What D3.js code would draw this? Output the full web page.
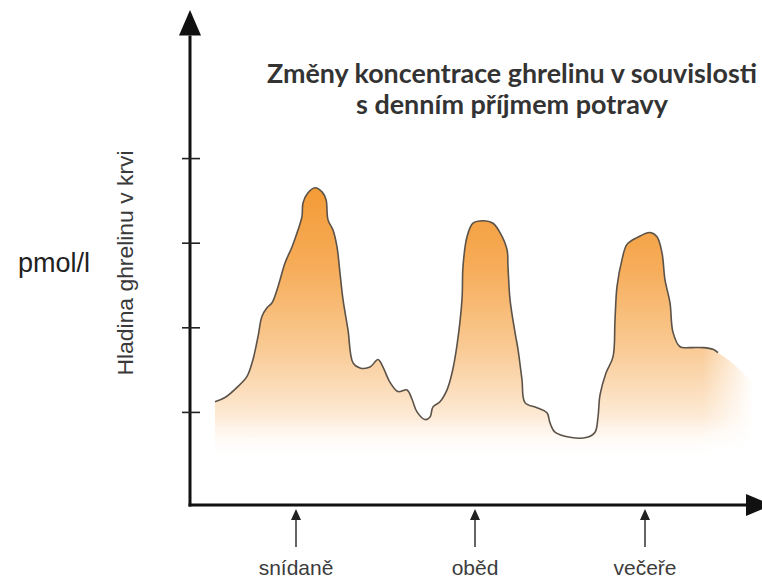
<!DOCTYPE html>
<html>
<head>
<meta charset="utf-8">
<script src="https://cdn.jsdelivr.net/npm/d3@7"></script>
<style>
  body { margin: 0; background: #fff; }
  svg { display: block; }
</style>
</head>
<body>
<div id="chart"></div>
<script>
// casova osa (libovolne jednotky) a hladina ghrelinu
const time = [6.25, 8.75, 11.75, 14.25, 15.75, 17, 18, 19.25, 20.5, 22, 23.75, 25.5, 27, 28, 28.25, 29.5, 31.25, 33, 34, 34.5,
  35.75, 36.75, 37.5, 38.25, 39.5, 40.75, 42.5, 45, 47, 48.25, 50, 52, 54.25, 55.5, 56.75, 58.75, 60, 60.75, 62.5, 64.25,
  65.5, 66.75, 68, 68.25, 69.25, 70.75, 73.25, 75.75, 77.5, 79.25, 79.5, 80, 81.25, 82, 83, 83.75, 86.75, 89.25, 90, 91.25,
  95, 99.25, 101.25, 102, 102.5, 104, 105.75, 106.25, 106.75, 108, 109.25, 111.75, 115, 116.75, 118, 118.75, 120, 120.75,
  122.5, 125, 128.25, 130.75, 132];
const level = [112, 117, 129, 142, 162, 189, 213, 223, 229, 248, 276, 295, 315, 331, 347, 359, 365, 360, 351, 327,
  315, 295, 264, 233, 197, 158, 152, 153, 162, 153, 135, 124, 126, 115, 100, 91, 94, 106, 112, 126,
  146, 179, 233, 272, 307, 323, 326, 323, 312, 292, 272, 233, 194, 174, 138, 111, 105, 99, 87, 76,
  70, 70, 76, 94, 120, 146, 165, 209, 248, 280, 298, 306, 312, 307, 288, 256, 229, 194,
  177, 176, 176, 174, 170];
// vybarveni pokracuje kousek za konec krivky a mizi
const fadeTime = [135, 138.5, 142];
const fadeLevel = [160, 145, 125];

const yTicks = [100, 200, 300, 400];
const meals = [26.5, 71.25, 113.75];
const mealLabels = ["snídaně", "oběd", "večeře"];

const titleLines = ["Změny koncentrace ghrelinu v souvislosti", "s denním příjmem potravy"];
const yLabel = "Hladina ghrelinu v krvi";
const unitLabel = "pmol/l";

const width = 762, height = 578;

const svg = d3.select("#chart")
  .append("svg")
  .attr("width", width)
  .attr("height", height);

const x = d3.scaleLinear().domain([0, 143]).range([190, 762]);
const y = d3.scaleLinear().domain([-10, 575]).range([505, 10]);

const defs = svg.append("defs");

const grad = defs.append("linearGradient")
  .attr("id", "fillGrad")
  .attr("gradientUnits", "userSpaceOnUse")
  .attr("x1", 0).attr("x2", 0)
  .attr("y1", y(370)).attr("y2", y(45));
[[0, "#f39a34", 1], [0.3, "#f6ac58", 1], [0.6, "#f9ca94", 1], [0.85, "#fdead6", 1], [1, "#ffffff", 0]]
  .forEach(s => grad.append("stop")
    .attr("offset", s[0]).attr("stop-color", s[1]).attr("stop-opacity", s[2]));

// mizeni doprava
const fadeGrad = defs.append("linearGradient")
  .attr("id", "fadeGrad")
  .attr("gradientUnits", "userSpaceOnUse")
  .attr("x1", x(128)).attr("x2", x(141))
  .attr("y1", 0).attr("y2", 0);
fadeGrad.append("stop").attr("offset", 0).attr("stop-color", "#fff");
fadeGrad.append("stop").attr("offset", 1).attr("stop-color", "#000");
defs.append("mask").attr("id", "fadeMask")
  .append("rect")
  .attr("x", 0).attr("y", 0).attr("width", width).attr("height", height)
  .attr("fill", "url(#fadeGrad)");

const curve = time.map((t, i) => ({ t: t, v: level[i] }));
const filled = curve.concat(fadeTime.map((t, i) => ({ t: t, v: fadeLevel[i] })));

const area = d3.area()
  .x(d => x(d.t))
  .y0(y(45))
  .y1(d => y(d.v))
  .curve(d3.curveCatmullRom.alpha(0.5));

svg.append("path")
  .datum(filled)
  .attr("d", area)
  .attr("fill", "url(#fillGrad)")
  .attr("mask", "url(#fadeMask)");

const line = d3.line()
  .x(d => x(d.t))
  .y(d => y(d.v))
  .curve(d3.curveCatmullRom.alpha(0.5));

svg.append("path")
  .datum(curve)
  .attr("d", line)
  .attr("fill", "none")
  .attr("stroke", "#5b5249")
  .attr("stroke-width", 1.6)
  .attr("stroke-linejoin", "round");

// osy se sipkami
const axisColor = "#111";
const x0 = x(0), yBase = y(-10);

svg.append("line")
  .attr("x1", x0).attr("x2", x0)
  .attr("y1", yBase + 1.5).attr("y2", y(545))
  .attr("stroke", axisColor).attr("stroke-width", 3);
svg.append("path")
  .attr("d", `M${x0},${y(575)} L${x0 - 11},${y(545)} L${x0 + 11},${y(545)} Z`)
  .attr("fill", axisColor);

svg.append("line")
  .attr("x1", x0 - 1.5).attr("x2", x(140))
  .attr("y1", yBase).attr("y2", yBase)
  .attr("stroke", axisColor).attr("stroke-width", 3);
svg.append("path")
  .attr("d", `M${x(145.5)},${yBase} L${x(139)},${yBase - 11} L${x(139)},${yBase + 11} Z`)
  .attr("fill", axisColor);

const yAxis = svg.append("g")
  .attr("transform", `translate(${x0},0)`)
  .call(d3.axisLeft(y).tickValues(yTicks).tickSize(8).tickFormat(""));
yAxis.select(".domain").remove();
yAxis.selectAll(".tick line")
  .attr("x1", -8).attr("x2", 10)
  .attr("stroke", "#222")
  .attr("stroke-width", 1.6);

// jidla
const meal = svg.append("g")
  .selectAll("g")
  .data(meals)
  .enter()
  .append("g")
  .attr("transform", d => `translate(${x(d)},0)`);

meal.append("line")
  .attr("x1", 0).attr("x2", 0)
  .attr("y1", yBase + 14).attr("y2", yBase + 42)
  .attr("stroke", "#333").attr("stroke-width", 1.5);
meal.append("path")
  .attr("d", `M0,${yBase + 4} L-5,${yBase + 15} L5,${yBase + 15} Z`)
  .attr("fill", "#222");
meal.append("text")
  .attr("y", yBase + 70)
  .attr("text-anchor", "middle")
  .attr("font-family", "Liberation Sans, Arial, sans-serif")
  .attr("font-size", 21)
  .attr("fill", "#3c3c3c")
  .text((d, i) => mealLabels[i]);

// titulek
const titleWidths = [490, 312];
const title = svg.append("g")
  .attr("font-family", "Lato, 'Open Sans', sans-serif")
  .attr("font-weight", "bold")
  .attr("font-size", 26)
  .attr("fill", "#333")
  .attr("text-anchor", "middle");
title.selectAll("text")
  .data(titleLines)
  .enter()
  .append("text")
  .attr("x", 512)
  .attr("y", (d, i) => 83 + i * 31)
  .attr("textLength", (d, i) => titleWidths[i])
  .attr("lengthAdjust", "spacingAndGlyphs")
  .text(d => d);

svg.append("text")
  .attr("transform", "translate(133,263) rotate(-90)")
  .attr("text-anchor", "middle")
  .attr("font-family", "Liberation Sans, Arial, sans-serif")
  .attr("font-size", 22)
  .attr("fill", "#3a3a3a")
  .attr("textLength", 225)
  .attr("lengthAdjust", "spacingAndGlyphs")
  .text(yLabel);

svg.append("text")
  .attr("x", 18)
  .attr("y", 272)
  .attr("font-family", "Liberation Sans, Arial, sans-serif")
  .attr("font-size", 27)
  .attr("fill", "#222")
  .text(unitLabel);
</script>
</body>
</html>
